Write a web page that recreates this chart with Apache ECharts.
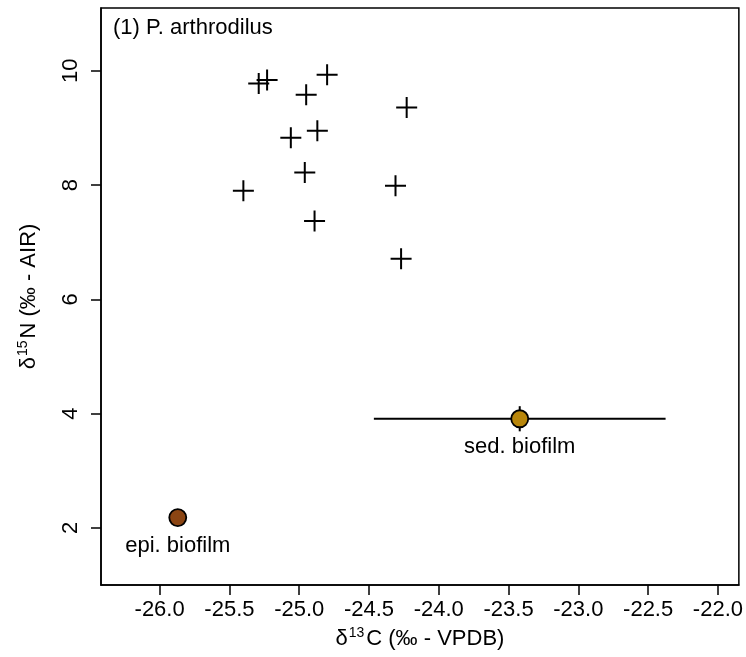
<!DOCTYPE html>
<html>
<head>
<meta charset="utf-8">
<script src="https://cdn.jsdelivr.net/npm/echarts@6/dist/echarts.min.js"></script>
<style>
html,body{margin:0;padding:0;background:#fff;}
#chart{width:746px;height:657px;}
</style>
</head>
<body>
<div id="chart"></div>
<script>
// Consumer (P. arthrodilus) isotope values
const consumerC = [-25.29, -25.23, -24.80, -24.95, -24.23, -25.06, -24.87, -24.96, -24.31, -25.40, -24.89, -24.27];
const consumerN = [9.78, 9.84, 9.93, 9.58, 9.36, 8.83, 8.95, 8.22, 7.99, 7.90, 7.37, 6.71];

// Sources
const sourceNames = ['epi. biofilm', 'sed. biofilm'];
const sourceC = [-25.87, -23.42];
const sourceN = [2.18, 3.91];
const sourceCErr = [0, 1.045];
const sourceNErr = [0, 0.22];
const sourceColors = ['#8B4513', '#B8860B'];

const xTicks = [-26.0, -25.5, -25.0, -24.5, -24.0, -23.5, -23.0, -22.5, -22.0];
const yTicks = [2, 4, 6, 8, 10];

const FONT = 'Liberation Sans, Arial, sans-serif';
const FS = 22;

const chart = echarts.init(document.getElementById('chart'), null, {renderer: 'canvas'});

const crossPath = 'path://M0,9.5h21v2h-21z M9.5,0h2v21h-2z';

const option = {
  animation: false,
  backgroundColor: '#fff',
  textStyle: {fontFamily: FONT},
  title: {
    text: '(1) P. arthrodilus',
    left: 108, top: 12,
    textStyle: {fontFamily: FONT, fontSize: FS, fontWeight: 'normal', color: '#000'}
  },
  grid: {
    left: 101, right: 5, top: 8, bottom: 72,
    show: true, borderColor: '#000', borderWidth: 1.5, backgroundColor: 'transparent'
  },
  xAxis: {
    type: 'value',
    min: -26.42, max: -21.85,
    splitLine: {show: false},
    axisLine: {show: true, onZero: false, lineStyle: {color: '#000', width: 1.5}},
    axisTick: {show: true, length: 10, lineStyle: {color: '#000', width: 1.5}, customValues: xTicks},
    axisLabel: {
      customValues: xTicks,
      color: '#000', fontSize: FS, fontFamily: FONT, margin: 14,
      formatter: v => v.toFixed(1)
    },
    name: '{d|δ}{s|13}{d|C (‰ - VPDB)}',
    nameLocation: 'middle', nameGap: 41,
    nameTextStyle: {
      rich: {
        d: {fontSize: FS, fontFamily: FONT, color: '#000'},
        s: {fontSize: 14, fontFamily: FONT, color: '#000', padding: [0, 2, 11, 1]}
      }
    }
  },
  yAxis: {
    type: 'value',
    min: 1.0, max: 11.1,
    splitLine: {show: false},
    axisLine: {show: true, onZero: false, lineStyle: {color: '#000', width: 1.5}},
    axisTick: {show: true, length: 10, lineStyle: {color: '#000', width: 1.5}, customValues: yTicks},
    axisLabel: {
      customValues: yTicks,
      color: '#000', fontSize: FS, fontFamily: FONT, margin: 19, rotate: 90
    },
    name: '{d|δ}{s|15}{d|N (‰ - AIR)}',
    nameLocation: 'middle', nameGap: 60,
    nameTextStyle: {
      rich: {
        d: {fontSize: FS, fontFamily: FONT, color: '#000'},
        s: {fontSize: 14, fontFamily: FONT, color: '#000', padding: [0, 2, 11, 1]}
      }
    }
  },
  series: [
    {
      type: 'scatter',
      data: consumerC.map((c, i) => [c, consumerN[i]]),
      symbol: crossPath,
      symbolSize: 21,
      itemStyle: {color: '#000', borderWidth: 0, opacity: 1},
      emphasis: {disabled: true},
      z: 3
    },
    {
      type: 'custom',
      data: sourceC.map((c, i) => [c, sourceN[i], sourceCErr[i], sourceNErr[i]]),
      renderItem: function (params, api) {
        const x = api.value(0), y = api.value(1), ex = api.value(2), ey = api.value(3);
        const children = [];
        if (ex > 0) {
          const a = api.coord([x - ex, y]), b = api.coord([x + ex, y]);
          children.push({type: 'line', shape: {x1: a[0], y1: a[1], x2: b[0], y2: b[1]}, style: {stroke: '#000', lineWidth: 2}});
        }
        if (ey > 0) {
          const a = api.coord([x, y - ey]), b = api.coord([x, y + ey]);
          children.push({type: 'line', shape: {x1: a[0], y1: a[1], x2: b[0], y2: b[1]}, style: {stroke: '#000', lineWidth: 2}});
        }
        return {type: 'group', children: children};
      },
      z: 2
    },
    {
      type: 'scatter',
      data: sourceC.map((c, i) => ({
        value: [c, sourceN[i]],
        name: sourceNames[i],
        itemStyle: {color: sourceColors[i]}
      })),
      symbol: 'circle',
      symbolSize: 17,
      itemStyle: {borderColor: '#000', borderWidth: 1.8, opacity: 1},
      emphasis: {disabled: true},
      label: {
        show: true, position: 'bottom', distance: 8,
        formatter: p => p.name,
        color: '#000', fontSize: FS, fontFamily: FONT, opacity: 1
      },
      z: 4
    }
  ]
};

chart.setOption(option);
</script>
</body>
</html>
